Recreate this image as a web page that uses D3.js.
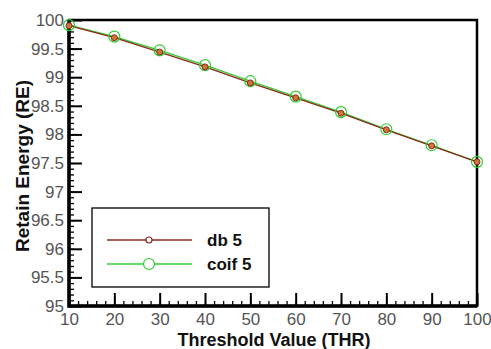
<!DOCTYPE html>
<html>
<head>
<meta charset="utf-8">
<script src="https://cdn.jsdelivr.net/npm/d3@7"></script>
<style>
  body { margin: 0; background: #fff; }
  svg { display: block; font-family: "Liberation Sans", Arial, sans-serif; }
  .tick text { fill: #555; font-size: 17px; }
</style>
</head>
<body>
<div id="chart"></div>
<script>
// threshold values (x) and retained energy (%) per wavelet
const thresholds = [10, 20, 30, 40, 50, 60, 70, 80, 90, 100];
const db5 = [99.90, 99.69, 99.44, 99.18, 98.90, 98.64, 98.37, 98.08, 97.80, 97.52];
const coif5 = [99.91, 99.71, 99.47, 99.21, 98.93, 98.66, 98.39, 98.09, 97.81, 97.52];
const xTicks = [10, 20, 30, 40, 50, 60, 70, 80, 90, 100];
const yTicks = [95, 95.5, 96, 96.5, 97, 97.5, 98, 98.5, 99, 99.5, 100];
const seriesNames = ['db 5', 'coif 5'];

const W = 491, H = 349;
const margin = { top: 20, right: 14, bottom: 43, left: 69 };
const width = W - margin.left - margin.right;
const height = H - margin.top - margin.bottom;

const svg = d3.select('#chart').append('svg')
  .attr('width', W)
  .attr('height', H);

const g = svg.append('g')
  .attr('transform', `translate(${margin.left},${margin.top})`);

const x = d3.scaleLinear().domain([10, 100]).range([0, width]);
const y = d3.scaleLinear().domain([95, 100]).range([height, 0]);

// minor ticks first (inward, short)
g.append('g')
  .attr('transform', `translate(0,${height})`)
  .call(d3.axisBottom(x).tickValues(d3.range(10, 101, 2)).tickSize(-5).tickFormat(''))
  .call(a => a.select('.domain').remove())
  .selectAll('line').attr('stroke', '#000').attr('stroke-width', 1.3);

g.append('g')
  .call(d3.axisLeft(y).tickValues(d3.range(0, 51).map(i => 95 + i * 0.1)).tickSize(-5).tickFormat(''))
  .call(a => a.select('.domain').remove())
  .selectAll('line').attr('stroke', '#000').attr('stroke-width', 1.3);

// major ticks with labels
const xAxis = g.append('g')
  .attr('transform', `translate(0,${height})`)
  .call(d3.axisBottom(x).tickValues(xTicks).tickSize(-13).tickPadding(5).tickFormat(d3.format('d')));
xAxis.select('.domain').remove();
xAxis.selectAll('line').attr('stroke', '#000').attr('stroke-width', 2);
xAxis.selectAll('text').attr('dy', '0.8em');

const yAxis = g.append('g')
  .call(d3.axisLeft(y).tickValues(yTicks).tickSize(-13).tickPadding(5).tickFormat(d => d3.format('')(d)));
yAxis.select('.domain').remove();
yAxis.selectAll('line').attr('stroke', '#000').attr('stroke-width', 2);

// frame
g.append('rect')
  .attr('width', width)
  .attr('height', height)
  .attr('fill', 'none')
  .attr('stroke', '#000')
  .attr('stroke-width', 2.5);
g.append('path')
  .attr('d', `M0,0V${height}H${width}`)
  .attr('fill', 'none')
  .attr('stroke', '#000')
  .attr('stroke-width', 3.5);

// lines
const line = d3.line()
  .x((d, i) => x(thresholds[i]))
  .y(d => y(d));

g.append('path')
  .datum(coif5)
  .attr('d', line)
  .attr('fill', 'none')
  .attr('stroke', '#33cc33')
  .attr('stroke-width', 1.3);

g.append('path')
  .datum(db5)
  .attr('d', line)
  .attr('fill', 'none')
  .attr('stroke', '#8b2a1a')
  .attr('stroke-width', 1.3);

g.selectAll('.m-coif')
  .data(coif5)
  .enter().append('circle')
  .attr('class', 'm-coif')
  .attr('cx', (d, i) => x(thresholds[i]))
  .attr('cy', d => y(d))
  .attr('r', 5.5)
  .attr('fill', 'none')
  .attr('stroke', '#33cc33')
  .attr('stroke-width', 1.2);

g.selectAll('.m-db')
  .data(db5)
  .enter().append('circle')
  .attr('class', 'm-db')
  .attr('cx', (d, i) => x(thresholds[i]))
  .attr('cy', d => y(d))
  .attr('r', 3)
  .attr('fill', '#c8783c')
  .attr('stroke', '#8b2a1a')
  .attr('stroke-width', 1);

// legend
const legend = svg.append('g').attr('transform', 'translate(92,208)');
legend.append('rect')
  .attr('width', 177)
  .attr('height', 79)
  .attr('fill', '#fff')
  .attr('stroke', '#000')
  .attr('stroke-width', 1.3);

const legendItems = [
  { name: seriesNames[0], color: '#8b2a1a', r: 3, fill: '#fff' },
  { name: seriesNames[1], color: '#33cc33', r: 5.5, fill: '#fff' }
];
legendItems.forEach((it, i) => {
  const ly = 32 + i * 24;
  legend.append('line')
    .attr('x1', 15).attr('x2', 100)
    .attr('y1', ly).attr('y2', ly)
    .attr('stroke', it.color)
    .attr('stroke-width', 1.3);
  legend.append('circle')
    .attr('cx', 57).attr('cy', ly)
    .attr('r', it.r)
    .attr('fill', it.fill)
    .attr('stroke', it.color)
    .attr('stroke-width', 1.2);
  legend.append('text')
    .attr('x', 115).attr('y', ly)
    .attr('dy', '0.35em')
    .attr('font-size', 17)
    .attr('font-weight', 'bold')
    .attr('fill', '#111')
    .text(it.name);
});

// axis titles
svg.append('text')
  .attr('x', 274)
  .attr('y', 346)
  .attr('text-anchor', 'middle')
  .attr('font-size', 18)
  .attr('font-weight', 'bold')
  .attr('fill', '#111')
  .text('Threshold Value (THR)');

svg.append('text')
  .attr('transform', 'translate(29,166) rotate(-90)')
  .attr('text-anchor', 'middle')
  .attr('font-size', 19)
  .attr('font-weight', 'bold')
  .attr('fill', '#111')
  .text('Retain Energy (RE)');
</script>
</body>
</html>
